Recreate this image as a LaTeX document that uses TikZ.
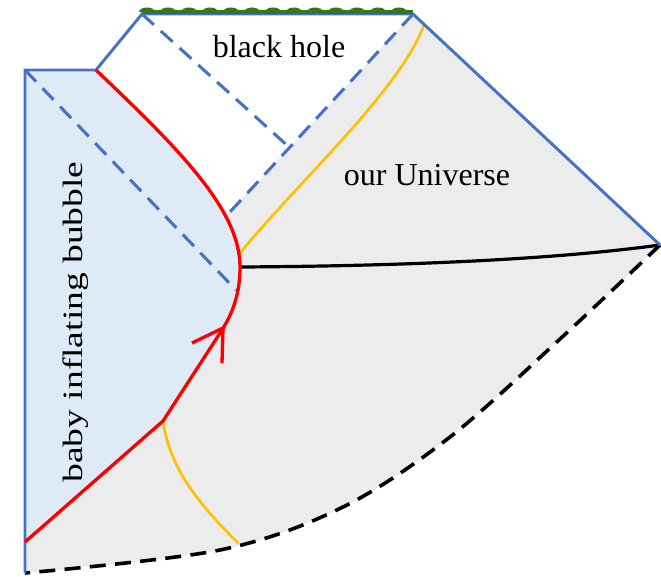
\documentclass[tikz,border=0pt]{standalone}
\usepackage{fontspec}
\setmainfont{Liberation Serif}
\definecolor{lineblue}{RGB}{68,114,196}
\definecolor{bubblefill}{RGB}{222,235,247}
\definecolor{unifill}{RGB}{236,236,236}
\definecolor{wallred}{RGB}{255,0,0}
\definecolor{ygold}{RGB}{255,192,0}
\definecolor{singgreen}{RGB}{56,118,29}
\begin{document}
\begin{tikzpicture}[x=0.75pt,y=-0.75pt,
  bline/.style={lineblue, line width=2.2pt, line join=miter},
  bdash/.style={lineblue, line width=2.3pt, dash pattern=on 12pt off 7pt},
  kdash/.style={black, line width=2.7pt, dash pattern=on 12pt off 7pt},
  wall/.style={wallred, line width=2.5pt},
  geod/.style={ygold, line width=2pt},
  slice/.style={black, line width=2.4pt},
  lbl/.style={font=\fontsize{24}{28}\selectfont, inner sep=0pt, anchor=base}]
\useasboundingbox (0,0) rectangle (661,576);
% key points
\coordinate (LT) at (25,70);
\coordinate (LK) at (96,70);
\coordinate (ST) at (142,14);
\coordinate (SE) at (413,14);
\coordinate (RC) at (660,245);
\coordinate (LB) at (25,573);
\coordinate (LR) at (25,542);
\coordinate (KK) at (163,421);
\coordinate (AP) at (240,267);
\coordinate (AR) at (222,330);
\coordinate (AT) at (223,328);
\coordinate (DC) at (290,148);
\coordinate (DE) at (229,213);
\coordinate (DB) at (236,290);
\coordinate (YT) at (424,25);
\coordinate (YM) at (240,253);
\coordinate (YB) at (238,543);
% fills
\fill[unifill] (LT) -- (LK) -- (DE) -- (SE) -- (RC) -- plot[smooth, tension=0.55] coordinates {(660,245) (560,339) (450,437) (343,507) (220,550) (25,573)} -- cycle;
\fill[bubblefill] (LT) -- (LK) .. controls (180,150) and (240,210) .. (AP) .. controls (240,295) and (232,314) .. (AR) -- (KK) -- (LR) -- cycle;
% blue dashed horizons
\draw[bdash] (LT) -- (DB);
\draw[bdash] (ST) -- (DC);
\draw[bdash] (SE) -- (DE);
% yellow lines
\draw[geod] (YT) .. controls (400,90) and (300,180) .. (YM);
\draw[geod] (KK) .. controls (170,470) and (200,505) .. (YB);
% black slice
\draw[slice] (AP) .. controls (400,266) and (550,260) .. (RC);
\draw[kdash] plot[smooth, tension=0.55] coordinates {(660,245) (560,339) (450,437) (343,507) (220,550) (25,573)};
% blue boundary
\draw[bline] (LB) -- (LT) -- (LK) -- (ST) -- (SE) -- (RC);
% red wall
\draw[wall] (LK) .. controls (180,150) and (240,210) .. (AP) .. controls (240,295) and (232,314) .. (AR) -- (KK) -- (LR);
\draw[wall] (192,343) -- (AT) -- (222,363);
% singularity
\draw[singgreen, line width=3.4pt] (142,12) -- (413,12);
\foreach \bx in {155,176,...,413}
  \fill[singgreen] (\bx,12) arc[start angle=0, end angle=180, x radius=6pt, y radius=3.4pt] -- cycle;
% labels
\node[lbl] (bh) at (279,57) {black hole};
\node[lbl] (ou) at (427,185) {our Universe};
\node[lbl, rotate=90, font=\fontsize{21}{24}\selectfont] (bb) at (82,322) {\scalebox{1.34}[1]{baby inflating bubble}};
\end{tikzpicture}
\end{document}
